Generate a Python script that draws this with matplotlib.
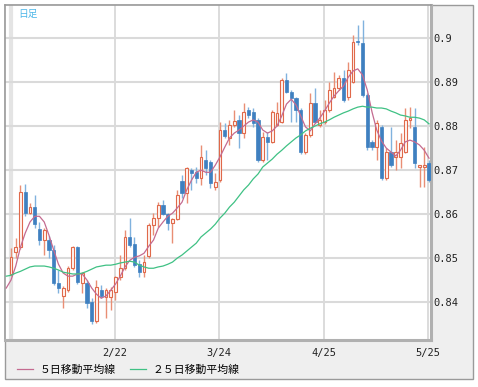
import matplotlib
matplotlib.use("Agg")
import matplotlib.pyplot as plt
from matplotlib.patches import Rectangle
import numpy as np

# daily candles (OHLC)
opens = [0.8464, 0.8514, 0.8525, 0.8650, 0.8602, 0.8616, 0.8566, 0.8541, 0.8541, 0.8518,
         0.8443, 0.8414, 0.8427, 0.8477, 0.8525, 0.8443, 0.8443, 0.8400, 0.8357, 0.8427,
         0.8411, 0.8411, 0.8423, 0.8457, 0.8477, 0.8548, 0.8532, 0.8486, 0.8468, 0.8505,
         0.8575, 0.8591, 0.8620, 0.8600, 0.8580, 0.8589, 0.8675, 0.8648, 0.8700, 0.8695,
         0.8682, 0.8723, 0.8718, 0.8661, 0.8677, 0.8791, 0.8773, 0.8802, 0.8814, 0.8784,
         0.8836, 0.8832, 0.8814, 0.8723, 0.8775, 0.8764, 0.8802, 0.8809, 0.8905, 0.8877,
         0.8864, 0.8836, 0.8741, 0.8780, 0.8852, 0.8802, 0.8809, 0.8836, 0.8866, 0.8886,
         0.8909, 0.8866, 0.8900, 0.8993, 0.8989, 0.8870, 0.8764, 0.8752, 0.8798, 0.8682,
         0.8741, 0.8730, 0.8730, 0.8741, 0.8814, 0.8798, 0.8707, 0.8707, 0.8716]
highs = [0.8523, 0.8545, 0.8666, 0.8668, 0.8625, 0.8643, 0.8582, 0.8568, 0.8550, 0.8530,
         0.8473, 0.8436, 0.8482, 0.8527, 0.8527, 0.8468, 0.8450, 0.8409, 0.8450, 0.8439,
         0.8432, 0.8434, 0.8459, 0.8507, 0.8564, 0.8591, 0.8548, 0.8495, 0.8507, 0.8580,
         0.8602, 0.8627, 0.8632, 0.8602, 0.8591, 0.8655, 0.8689, 0.8707, 0.8705, 0.8707,
         0.8757, 0.8745, 0.8723, 0.8693, 0.8809, 0.8807, 0.8814, 0.8836, 0.8825, 0.8852,
         0.8843, 0.8841, 0.8818, 0.8786, 0.8786, 0.8836, 0.8855, 0.8909, 0.8920, 0.8882,
         0.8866, 0.8841, 0.8784, 0.8875, 0.8886, 0.8836, 0.8859, 0.8900, 0.8923, 0.8916,
         0.8927, 0.8945, 0.9007, 0.9030, 0.9041, 0.8875, 0.8768, 0.8814, 0.8802, 0.8750,
         0.8798, 0.8768, 0.8784, 0.8841, 0.8843, 0.8841, 0.8711, 0.8752, 0.8723]
lows = [0.8459, 0.8500, 0.8520, 0.8595, 0.8600, 0.8568, 0.8530, 0.8507, 0.8500, 0.8439,
        0.8420, 0.8386, 0.8423, 0.8473, 0.8441, 0.8420, 0.8386, 0.8350, 0.8352, 0.8409,
        0.8364, 0.8382, 0.8405, 0.8450, 0.8473, 0.8525, 0.8480, 0.8457, 0.8457, 0.8500,
        0.8552, 0.8570, 0.8598, 0.8564, 0.8534, 0.8586, 0.8636, 0.8625, 0.8655, 0.8670,
        0.8666, 0.8689, 0.8659, 0.8655, 0.8673, 0.8773, 0.8757, 0.8798, 0.8750, 0.8773,
        0.8818, 0.8798, 0.8718, 0.8718, 0.8723, 0.8761, 0.8800, 0.8807, 0.8875, 0.8809,
        0.8809, 0.8736, 0.8736, 0.8775, 0.8807, 0.8798, 0.8805, 0.8832, 0.8864, 0.8882,
        0.8855, 0.8859, 0.8898, 0.8984, 0.8866, 0.8745, 0.8745, 0.8723, 0.8677, 0.8677,
        0.8707, 0.8700, 0.8705, 0.8739, 0.8795, 0.8705, 0.8661, 0.8661, 0.8673]
closes = [0.8502, 0.8525, 0.8650, 0.8602, 0.8616, 0.8577, 0.8541, 0.8564, 0.8518, 0.8443,
          0.8432, 0.8432, 0.8477, 0.8525, 0.8445, 0.8466, 0.8398, 0.8357, 0.8434, 0.8414,
          0.8427, 0.8427, 0.8457, 0.8477, 0.8548, 0.8530, 0.8484, 0.8468, 0.8491, 0.8575,
          0.8591, 0.8620, 0.8600, 0.8580, 0.8589, 0.8643, 0.8648, 0.8705, 0.8693, 0.8682,
          0.8730, 0.8705, 0.8670, 0.8673, 0.8791, 0.8777, 0.8802, 0.8811, 0.8784, 0.8832,
          0.8825, 0.8807, 0.8723, 0.8775, 0.8764, 0.8832, 0.8830, 0.8905, 0.8877, 0.8864,
          0.8836, 0.8741, 0.8780, 0.8852, 0.8809, 0.8814, 0.8836, 0.8882, 0.8886, 0.8909,
          0.8859, 0.8927, 0.8991, 0.8991, 0.8870, 0.8752, 0.8752, 0.8807, 0.8682, 0.8741,
          0.8711, 0.8741, 0.8761, 0.8814, 0.8818, 0.8716, 0.8711, 0.8711, 0.8677]

# moving averages (one extra point before the first candle)
ma5 = [0.8432, 0.8450, 0.8482, 0.8525, 0.8557, 0.8582, 0.8595, 0.8595, 0.8582, 0.8552,
       0.8518, 0.8486, 0.8466, 0.8459, 0.8459, 0.8464, 0.8464, 0.8450, 0.8432, 0.8418,
       0.8409, 0.8414, 0.8427, 0.8441, 0.8459, 0.8480, 0.8495, 0.8502, 0.8505, 0.8511,
       0.8527, 0.8541, 0.8568, 0.8582, 0.8595, 0.8602, 0.8614, 0.8627, 0.8655, 0.8677,
       0.8695, 0.8700, 0.8695, 0.8695, 0.8711, 0.8730, 0.8752, 0.8773, 0.8784, 0.8791,
       0.8800, 0.8809, 0.8814, 0.8809, 0.8791, 0.8784, 0.8789, 0.8800, 0.8823, 0.8850,
       0.8861, 0.8848, 0.8823, 0.8798, 0.8789, 0.8805, 0.8818, 0.8834, 0.8852, 0.8868,
       0.8880, 0.8891, 0.8911, 0.8925, 0.8930, 0.8916, 0.8882, 0.8832, 0.8791, 0.8766,
       0.8750, 0.8741, 0.8732, 0.8745, 0.8764, 0.8768, 0.8764, 0.8757, 0.8745, 0.8727]
ma25 = [0.8459, 0.8461, 0.8466, 0.8470, 0.8475, 0.8480, 0.8482, 0.8482, 0.8482, 0.8480,
        0.8477, 0.8473, 0.8468, 0.8466, 0.8464, 0.8464, 0.8466, 0.8470, 0.8475, 0.8480,
        0.8482, 0.8484, 0.8484, 0.8486, 0.8489, 0.8491, 0.8493, 0.8491, 0.8484, 0.8480,
        0.8477, 0.8477, 0.8480, 0.8482, 0.8486, 0.8491, 0.8500, 0.8507, 0.8516, 0.8525,
        0.8534, 0.8548, 0.8557, 0.8566, 0.8577, 0.8591, 0.8602, 0.8616, 0.8627, 0.8641,
        0.8655, 0.8666, 0.8680, 0.8691, 0.8707, 0.8716, 0.8725, 0.8736, 0.8745, 0.8755,
        0.8764, 0.8773, 0.8780, 0.8789, 0.8795, 0.8800, 0.8805, 0.8809, 0.8814, 0.8820,
        0.8825, 0.8830, 0.8834, 0.8839, 0.8843, 0.8845, 0.8843, 0.8843, 0.8841, 0.8841,
        0.8839, 0.8834, 0.8830, 0.8825, 0.8823, 0.8820, 0.8820, 0.8818, 0.8814, 0.8805]

tick_idx = [22, 44, 66, 88]
tick_labels = ['2/22', '3/24', '4/25', '5/25']
yticks = [0.84, 0.85, 0.86, 0.87, 0.88, 0.89, 0.90]
ytick_labels = ['0.84', '0.85', '0.86', '0.87', '0.88', '0.89', '0.9']

W, H = 478, 387
fig = plt.figure(figsize=(W / 100, H / 100), dpi=100)
fig.patch.set_facecolor('white')
# grey frame behind everything
frame = Rectangle((5 / W, 1 - 379 / H), 468 / W, 374 / H, transform=fig.transFigure,
                  facecolor='#efefef', edgecolor='#9a9a9a', lw=1, zorder=-5)
fig.add_artist(frame)

ax = fig.add_axes([5 / W, 1 - 340 / H, 426 / W, 335 / H])
ax.set_zorder(2)
ax.set_facecolor('white')

x = np.arange(len(closes))
o = np.array(opens); c = np.array(closes)
up = c >= o
up_edge, up_wick, up_fill = '#e0694a', '#e98e74', '#fff6f3'
dn_fill, dn_wick = '#3f80c0', '#80b2de'

ax.vlines(x[up], np.array(lows)[up], np.array(highs)[up], color=up_wick, lw=1.0, zorder=2)
ax.vlines(x[~up], np.array(lows)[~up], np.array(highs)[~up], color=dn_wick, lw=1.0, zorder=2)

bottom = np.minimum(o, c)
height = np.maximum(np.abs(c - o), 0.00008)
ax.bar(x[up], height[up], bottom=bottom[up], width=0.62, facecolor=up_fill,
       edgecolor=up_edge, lw=0.8, zorder=3)
ax.bar(x[~up], height[~up], bottom=bottom[~up], width=0.7, facecolor=dn_fill,
       edgecolor=dn_fill, lw=0.5, zorder=3)

xm = np.arange(-1, len(closes))
l5, = ax.plot(xm, ma5, color='#c46b90', lw=0.9, zorder=4, label='５日移動平均線')
l25, = ax.plot(xm, ma25, color='#3fc184', lw=0.9, zorder=4, label='２５日移動平均線')

ax.set_xlim(-1.26, 88.42)
ax.set_ylim(0.8314, 0.9075)

ax.axvline(-0.1, color='#e4e4e4', lw=3, zorder=0)
for t in tick_idx:
    ax.axvline(t - 0.15, color='#d6d6d6', lw=1.2, zorder=0)
for yv in yticks:
    ax.axhline(yv, color='#dadada', lw=1.5, zorder=0)

mono = 'DejaVu Sans Mono'
ax.set_xticks([t - 0.15 for t in tick_idx])
ax.set_xticklabels(tick_labels, fontsize=7.5, family=mono, color='#222222')
ax.yaxis.tick_right()
ax.set_yticks(yticks)
ax.set_yticklabels(ytick_labels, fontsize=7.5, family=mono, color='#222222')
ax.tick_params(axis='x', length=0, pad=6)
ax.tick_params(axis='y', length=0, pad=2)

for side in ['left', 'top']:
    ax.spines[side].set_color('#9a9a9a')
    ax.spines[side].set_linewidth(1.2)
for side in ['right', 'bottom']:
    ax.spines[side].set_color('#b0b0b0')
    ax.spines[side].set_linewidth(2.2)

ax.text(13 / 426, 1 - 9 / 335, '日足', transform=ax.transAxes, fontsize=7,
        color='#4db6e8', family=['Noto Sans CJK JP', 'DejaVu Sans'], va='center', ha='left')

fig.legend(handles=[l5, l25], loc='center left', bbox_to_anchor=(17 / W, 1 - 370 / H),
           ncol=2, frameon=False, borderpad=0, borderaxespad=0, handlelength=1.5,
           handletextpad=0.6, columnspacing=1.3,
           prop={'family': ['Noto Sans CJK JP', 'DejaVu Sans'], 'size': 7.8})

fig.savefig('out.png', dpi=100)
